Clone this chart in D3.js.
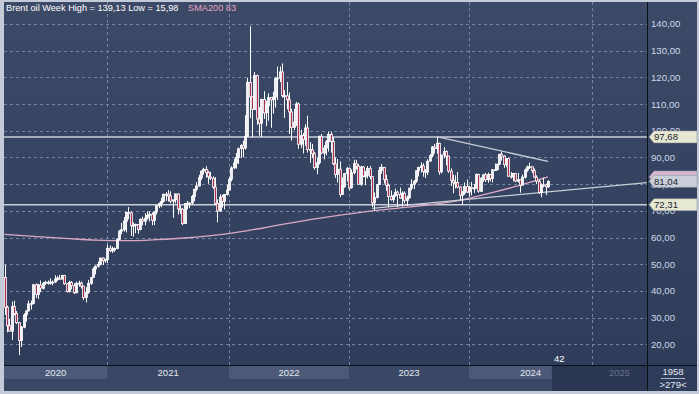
<!DOCTYPE html>
<html>
<head>
<meta charset="utf-8">
<script src="https://cdn.jsdelivr.net/npm/d3@7"></script>
<style>
  body { margin: 0; background: #c3cbd8; }
  svg { display: block; font-family: "Liberation Sans", Arial, sans-serif; }
</style>
</head>
<body>
<div id="chart"></div>
<script>
// weekly candles, first week starts 2020-03-09, one row = [open, high, low, close]
const firstWeek = "2020-03-09";

const ohlc2020 = [
  [45.0,49.8,31.0,33.85],[33.9,34.5,24.5,26.98],[27.0,29.5,24.6,24.93],[24.9,36.0,21.6,34.11],
  [34.1,36.3,30.8,31.48],[31.5,32.5,27.6,28.08],[28.1,28.4,15.98,21.44],[21.4,26.9,19.0,26.44],
  [26.4,31.6,26.0,30.97],[31.0,32.6,28.5,32.50],[32.5,36.4,32.3,35.13],[35.1,36.4,33.0,35.33],
  [35.3,42.6,35.0,42.30],[42.3,42.8,37.4,38.73],[38.7,42.6,37.0,42.19],[42.2,43.9,39.5,41.02],
  [41.0,43.3,40.5,42.80],[42.8,43.8,42.2,43.24],[43.2,43.9,42.3,43.14],[43.1,44.7,42.4,43.34],
  [43.3,43.9,42.1,43.30],[43.3,45.9,43.0,44.40],[44.4,45.5,43.7,44.80],[44.8,46.0,44.1,44.35],
  [44.4,46.0,44.5,45.81],[45.8,46.0,42.3,42.66],[42.7,42.8,39.4,39.83],[39.8,43.8,39.4,43.15],
  [43.2,43.7,40.6,41.92],[41.9,42.8,38.9,39.27],[39.3,43.5,39.1,42.85],[42.9,43.8,41.6,42.93],
  [42.9,43.5,40.9,41.77],[41.8,41.9,36.6,37.46],[37.5,41.4,35.7,39.45],[39.5,44.1,38.9,42.78],
  [42.8,45.0,42.3,44.96],[45.0,48.8,44.9,48.18],[48.2,49.5,46.2,49.25],[49.3,51.0,48.7,49.97],
  [50.0,52.5,49.6,52.26],[52.3,52.5,49.7,51.29],[51.3,52.0,50.5,51.80]
];
const ohlc2021 = [
  [51.8,57.4,50.4,55.99],[56.0,57.0,54.5,55.10],[55.1,56.6,54.2,55.41],[55.4,56.3,54.6,55.88],
  [55.9,59.8,55.6,59.34],[59.3,62.8,59.2,62.43],[62.4,65.5,61.2,62.91],[62.9,67.7,62.2,66.13],
  [66.1,69.6,61.9,69.36],[69.4,71.4,66.8,69.22],[69.2,69.8,60.6,64.53],[64.5,65.6,60.3,64.57],
  [64.6,65.2,61.6,64.86],[64.9,64.9,61.4,62.95],[63.0,67.2,62.7,66.77],[66.8,67.8,64.6,66.11],
  [66.1,69.1,64.6,67.25],[67.3,69.8,66.7,68.28],[68.3,69.8,66.0,68.71],[68.7,69.4,64.6,66.44],
  [66.4,69.7,64.6,69.63],[69.6,72.1,68.6,71.89],[71.9,73.1,71.0,72.69],[72.7,74.9,71.3,73.51],
  [73.5,76.4,73.1,76.18],[76.2,77.0,73.7,76.17],[76.2,77.8,73.5,75.55],[75.6,77.3,72.8,73.59],
  [73.6,74.0,67.4,74.10],[74.1,76.4,72.8,76.33],[76.3,76.6,68.6,70.70],[70.7,72.0,68.8,70.59],
  [70.6,71.1,64.6,65.18],[65.2,72.8,65.1,72.70],[72.7,73.7,70.6,72.61],[72.6,73.1,71.1,72.92],
  [72.9,76.0,72.4,75.34],[75.3,78.2,73.6,78.09],[78.1,80.8,77.3,79.28],[79.3,83.5,79.1,82.39],
  [82.4,85.1,81.5,84.86],[84.9,86.1,83.6,85.53],[85.5,86.7,82.4,84.38],[84.4,85.0,80.1,82.74],
  [82.7,84.6,81.5,82.17],[82.2,82.9,78.2,78.89],[78.9,82.6,72.1,72.72],[72.7,74.3,65.7,69.88],
  [69.9,76.2,69.6,75.15],[75.2,76.0,71.2,73.52],[73.5,76.3,70.5,76.14],[76.1,79.8,75.7,77.78]
];
const ohlc2022 = [
  [77.8,82.7,77.7,81.75],[81.8,86.7,81.0,86.06],[86.1,89.5,85.6,87.89],[87.9,91.7,85.8,90.03],
  [90.0,93.7,87.5,93.27],[93.3,95.0,89.8,94.44],[94.4,96.2,90.1,93.54],[93.5,105.8,92.9,97.93],
  [97.9,119.8,97.8,118.11],[118.1,139.13,104.7,112.67],[112.7,112.9,97.4,107.93],[107.9,122.0,107.8,120.65],
  [120.7,121.0,102.2,104.39],[104.4,108.8,98.1,102.78],[102.8,112.0,97.6,111.70],[111.7,114.8,104.4,106.65],
  [106.7,111.2,101.7,109.34],[109.3,114.0,103.7,112.39],[112.4,112.5,101.1,111.55],[111.6,114.6,106.4,112.55],
  [112.6,120.0,108.6,119.43],[119.4,124.0,111.5,119.72],[119.7,124.0,118.2,122.01],[122.0,125.2,112.4,113.12],
  [113.1,115.2,104.8,113.12],[113.1,118.2,108.0,111.63],[111.6,114.3,98.8,107.02],[107.0,108.2,96.3,101.16],
  [101.2,108.2,100.2,103.20],[103.2,110.8,101.8,110.01],[110.0,110.5,93.2,94.92],[94.9,100.4,93.6,98.15],
  [98.2,99.1,91.5,96.72],[96.7,102.4,94.3,100.99],[101.0,105.6,91.8,93.02],[93.0,95.7,88.0,92.84],
  [92.8,95.0,89.8,91.35],[91.4,92.1,85.4,86.15],[86.2,89.8,83.7,87.96],[88.0,98.1,87.4,97.92],
  [97.9,98.8,91.3,91.63],[91.6,94.6,89.3,93.50],[93.5,96.5,90.8,95.77],[95.8,99.6,92.2,98.57],
  [98.6,99.6,91.8,95.99],[96.0,97.6,87.1,87.62],[87.6,90.0,82.3,83.63],[83.6,89.4,80.6,85.57],
  [85.6,88.5,75.1,76.10],[76.1,82.5,75.9,79.04],[79.0,84.2,78.6,83.92],[83.9,86.4,81.0,85.91]
];
const ohlc2023 = [
  [85.9,86.2,77.6,78.57],[78.6,85.5,78.3,84.28],[84.3,89.1,83.6,87.63],[87.6,89.1,85.5,86.66],
  [86.7,87.5,79.8,79.94],[79.9,86.9,79.3,86.39],[86.4,86.8,82.6,83.00],[83.0,84.9,79.6,83.16],
  [83.2,86.8,82.1,85.83],[85.8,86.8,81.8,82.78],[82.8,83.0,71.4,72.97],[73.0,76.9,70.1,74.99],
  [75.0,80.0,74.6,79.77],[79.8,86.4,79.8,85.12],[85.1,87.5,83.9,86.31],[86.3,86.4,80.2,81.66],
  [81.7,83.5,77.5,79.54],[79.5,80.2,71.4,75.30],[75.3,77.6,73.8,74.17],[74.2,76.1,73.2,75.58],
  [75.6,78.3,75.3,76.95],[77.0,77.5,71.4,76.13],[76.1,78.7,74.6,74.79],[74.8,77.3,71.6,76.61],
  [76.6,77.3,72.9,73.85],[73.9,75.7,71.8,74.90],[74.9,78.5,74.5,78.47],[78.5,81.8,77.7,79.87],
  [79.9,81.5,78.1,81.07],[81.1,85.0,80.5,84.99],[85.0,86.5,82.9,86.24],[86.2,88.1,84.3,86.81],
  [86.8,87.8,82.8,84.80],[84.8,85.6,82.3,84.48],[84.5,89.3,83.4,88.55],[88.6,91.2,88.5,90.65],
  [90.7,94.3,90.1,93.93],[93.9,95.0,91.5,93.27],[93.3,97.7,91.4,95.31],[95.3,95.5,83.5,84.58],
  [84.6,91.0,84.0,90.89],[90.9,93.8,89.7,92.16],[92.2,92.7,87.0,90.48],[90.5,90.6,84.2,84.89],
  [84.9,85.9,79.3,81.43],[81.4,83.5,76.6,80.61],[80.6,83.3,78.4,80.58],[80.6,84.5,78.4,78.88],
  [78.9,79.2,73.9,75.84],[75.8,77.4,72.3,76.55],[76.6,80.6,76.0,79.07],[79.1,81.7,76.7,77.04]
];
const ohlc2024 = [
  [77.0,79.4,75.3,78.76],[78.8,80.8,75.8,78.29],[78.3,80.0,76.7,78.56],[78.6,84.0,78.3,83.55],
  [83.6,83.9,76.8,77.33],[77.3,82.6,77.1,82.19],[82.2,83.7,80.8,83.47],[83.5,84.2,80.8,81.62],
  [81.6,84.3,80.5,83.55],[83.6,83.7,81.0,82.08],[82.1,85.7,80.6,85.34],[85.3,87.7,84.9,85.43],
  [85.4,87.6,85.1,87.48],[87.5,91.3,87.1,91.17],[91.2,92.2,88.8,90.45],[90.5,90.8,86.1,87.29],
  [87.3,89.6,86.3,89.50],[89.5,89.9,82.7,82.96],[83.0,84.5,82.1,82.79],[82.8,84.0,81.1,83.98],
  [84.0,84.2,80.7,81.12],[81.1,84.2,80.6,81.62],[81.6,81.7,76.8,79.62],[79.6,83.6,79.6,82.62],
  [82.6,85.8,82.1,85.24],[85.2,86.9,84.6,86.41],[86.4,88.0,85.7,86.54],[86.5,86.6,84.1,85.03],
  [85.0,85.9,82.3,82.63],[82.6,83.3,80.0,81.13],[81.1,81.8,76.3,76.81],[76.8,80.2,75.1,79.66],
  [79.7,82.4,78.8,79.68],[79.7,80.2,75.9,79.02],[79.0,81.4,78.6,81.04]
];

// 200-week SMA
const sma200 = [
  ["2020-03-09",61.2],["2020-06-01",60.4],["2020-09-01",59.7],["2020-12-01",59.0],
  ["2021-03-01",58.8],["2021-06-01",59.2],["2021-09-01",59.9],["2021-12-01",61.0],
  ["2022-03-01",62.6],["2022-06-01",64.6],["2022-09-01",66.6],["2022-12-01",68.3],
  ["2023-03-01",69.8],["2023-06-01",71.0],["2023-09-01",72.2],["2023-12-01",73.8],
  ["2024-03-01",76.5],["2024-06-01",79.5],["2024-08-26",82.7]
];

const hLevels = [97.68, 72.31];
const trendDown = [["2023-09-28",97.7],["2024-08-26",88.5]];
const trendUp = [["2023-03-13",70.9],["2025-06-23",80.6]];
const trendUpLabel = 81.04;

const yTicks = [20,30,40,50,60,70,80,90,100,110,120,130,140];
const years = ["2020","2021","2022","2023","2024","2025"];
const yearStarts = ["2020-03-09","2021-01-04","2022-01-03","2023-01-02","2024-01-01","2025-01-06"];

const W = 699, H = 394;
const pL = 4, pR = 647, pT = 2, pB = 365;
const parse = d3.utcParse("%Y-%m-%d");

const candles = [].concat(ohlc2020, ohlc2021, ohlc2022, ohlc2023, ohlc2024).map((r, i) => ({
  date: d3.utcWeek.offset(parse(firstWeek), i), o: r[0], h: r[1], l: r[2], c: r[3]
}));

const x = d3.scaleUtc()
  .domain(yearStarts.map(parse))
  .range([4.5, 107.3, 229, 349, 469, 592]);
const y = d3.scaleLinear().domain([20, 140]).range([344.3, 23.9]);
const fmt = v => d3.format(".2f")(v).replace(".", ",");

const svg = d3.select("#chart").append("svg")
  .attr("width", W).attr("height", H);

const defs = svg.append("defs");
const grad = defs.append("linearGradient").attr("id", "bg").attr("x1", 0).attr("y1", 0).attr("x2", 0).attr("y2", 1);
grad.append("stop").attr("offset", "0%").attr("stop-color", "#3d4a67");
grad.append("stop").attr("offset", "100%").attr("stop-color", "#2f3c59");
defs.append("clipPath").attr("id", "plot")
  .append("rect").attr("x", pL).attr("y", pT).attr("width", pR - pL).attr("height", pB - pT);

// frame + backgrounds
svg.append("rect").attr("width", W).attr("height", H).attr("fill", "#c3cbd8");
svg.append("rect").attr("x", pL).attr("y", pT).attr("width", W - pL - 2).attr("height", H - pT - 3)
  .attr("fill", "url(#bg)");

// grid
const grid = svg.append("g").attr("clip-path", "url(#plot)")
  .attr("stroke", "#7383a3").attr("stroke-dasharray", "3,3").attr("stroke-width", 1);
grid.selectAll(".hy").data(yTicks).join("line")
  .attr("x1", pL).attr("x2", pR)
  .attr("y1", d => Math.round(y(d)) + 0.5).attr("y2", d => Math.round(y(d)) + 0.5);
grid.selectAll(".vx").data(yearStarts.slice(1)).join("line")
  .attr("y1", pT).attr("y2", pB)
  .attr("x1", d => Math.round(x(parse(d))) + 0.5).attr("x2", d => Math.round(x(parse(d))) + 0.5);

// x axis band
const lastX = x(candles[candles.length - 1].date) + 4;
const band = svg.append("g");
band.append("rect").attr("x", pL).attr("y", pB).attr("width", pR - pL).attr("height", H - 3 - pB)
  .attr("fill", "#3a4866");
years.forEach((yr, i) => {
  const x0 = i === 0 ? pL : x(parse(yearStarts[i]));
  const x1 = i < years.length - 1 ? Math.min(x(parse(yearStarts[i + 1])), lastX) : pR;
  if (i % 2 === 0 && i < years.length - 1) {
    band.append("rect").attr("x", x0).attr("y", pB + 1).attr("width", x1 - x0).attr("height", 13)
      .attr("fill", "#4c5a78");
  }
});
band.append("rect").attr("x", lastX).attr("y", pB + 1).attr("width", pR - lastX).attr("height", H - 4 - pB)
  .attr("fill", "#2b3752");
band.selectAll("text").data(years).join("text")
  .attr("x", (d, i) => {
    const x0 = i === 0 ? pL : x(parse(yearStarts[i]));
    const x1 = i < years.length - 1 ? x(parse(yearStarts[i + 1])) : pR;
    return (x0 + x1) / 2;
  })
  .attr("y", pB + 11).attr("text-anchor", "middle").attr("font-size", 9.5)
  .attr("fill", d => d === "2025" ? "#65738f" : "#e4e9f2")
  .text(d => d);

// horizontal levels
const lines = svg.append("g").attr("clip-path", "url(#plot)");
lines.selectAll(".lvl").data(hLevels).join("line")
  .attr("x1", pL).attr("x2", pR)
  .attr("y1", d => y(d)).attr("y2", d => y(d))
  .attr("stroke", "#c9ced8").attr("stroke-width", 1.5);

// SMA 200
const smaLine = d3.line().x(d => x(parse(d[0]))).y(d => y(d[1])).curve(d3.curveMonotoneX);
lines.append("path").datum(sma200).attr("d", smaLine)
  .attr("fill", "none").attr("stroke", "#d9a9c6").attr("stroke-width", 1.3);

// trend lines
const trendLine = d3.line().x(d => x(parse(d[0]))).y(d => y(d[1]));
[trendDown, trendUp].forEach(t => {
  lines.append("path").datum(t).attr("d", trendLine)
    .attr("fill", "none").attr("stroke", "#c9ced8").attr("stroke-width", 1.3);
});

// candles
const cg = svg.append("g").attr("clip-path", "url(#plot)");
cg.selectAll(".wick").data(candles).join("line")
  .attr("x1", d => Math.round(x(d.date)) + 0.5).attr("x2", d => Math.round(x(d.date)) + 0.5)
  .attr("y1", d => y(d.h)).attr("y2", d => y(d.l))
  .attr("stroke", "#ffffff").attr("stroke-width", 1);
cg.selectAll(".body").data(candles).join("rect")
  .attr("x", d => Math.round(x(d.date)) - 0.5)
  .attr("width", 2)
  .attr("y", d => y(Math.max(d.o, d.c)))
  .attr("height", d => Math.max(1, Math.abs(y(d.o) - y(d.c))))
  .attr("fill", d => d.c >= d.o ? "#f2f2f6" : "#a83050")
  .attr("stroke", "#ffffff").attr("stroke-width", 0.8);

// right axis
svg.append("line").attr("x1", pR + 0.5).attr("x2", pR + 0.5).attr("y1", pT).attr("y2", H - 3)
  .attr("stroke", "#0b0f18").attr("stroke-width", 1);
svg.append("line").attr("x1", pL).attr("x2", W - 2).attr("y1", pB + 0.5).attr("y2", pB + 0.5)
  .attr("stroke", "#0b0f18").attr("stroke-width", 1);
svg.append("g").selectAll("text").data(yTicks).join("text")
  .attr("x", pR + 4).attr("y", d => y(d) + 3.5)
  .attr("font-size", 9.6).attr("fill", "#cdd7ea")
  .text(d => fmt(d));

// value tags on the axis
function tag(v, fill, label) {
  const yc = y(v), x0 = pR + 2, x1 = W - 2;
  svg.append("path")
    .attr("d", `M${x0},${yc} L${x0 + 5},${yc - 6} L${x1},${yc - 6} L${x1},${yc + 6} L${x0 + 5},${yc + 6} Z`)
    .attr("fill", fill).attr("stroke", "#8a8f9a").attr("stroke-width", 0.5);
  if (label) svg.append("text").attr("x", x0 + 5).attr("y", yc + 3.5).attr("font-size", 9.6)
    .attr("fill", "#1d2230").text(label);
}
const lastSma = sma200[sma200.length - 1][1];
tag(hLevels[0], "#e6e8d2", fmt(hLevels[0]));
tag(lastSma, "#d7b7d0", null);
tag(trendUpLabel, "#c9ced8", fmt(trendUpLabel));
tag(hLevels[1], "#e6e8d2", fmt(hLevels[1]));

// title
const hi = d3.max(candles, d => d.h), lo = d3.min(candles, d => d.l);
svg.append("text").attr("x", 6).attr("y", 11).attr("font-size", 9.2).attr("fill", "#ffffff")
  .text(`Brent oil Week High = ${fmt(hi)} Low = ${fmt(lo)}`);
svg.append("text").attr("x", 188).attr("y", 11).attr("font-size", 9.2).attr("fill", "#e3a6c0")
  .text(`SMA200 ${Math.round(lastSma)}`);

// misc counters
svg.append("text").attr("x", lastX + 2).attr("y", pB - 3).attr("font-size", 9.5).attr("fill", "#ffffff").text("42");
svg.append("text").attr("x", (pR + W) / 2).attr("y", pB + 10).attr("text-anchor", "middle")
  .attr("font-size", 9.5).attr("fill", "#e4e9f2").text("1958");
svg.append("line").attr("x1", pR + 14).attr("x2", W - 14).attr("y1", pB + 13.5).attr("y2", pB + 13.5)
  .attr("stroke", "#aab4c6");
svg.append("text").attr("x", (pR + W) / 2).attr("y", pB + 23).attr("text-anchor", "middle")
  .attr("font-size", 9.5).attr("fill", "#e4e9f2").text(">279<");
</script>
</body>
</html>
